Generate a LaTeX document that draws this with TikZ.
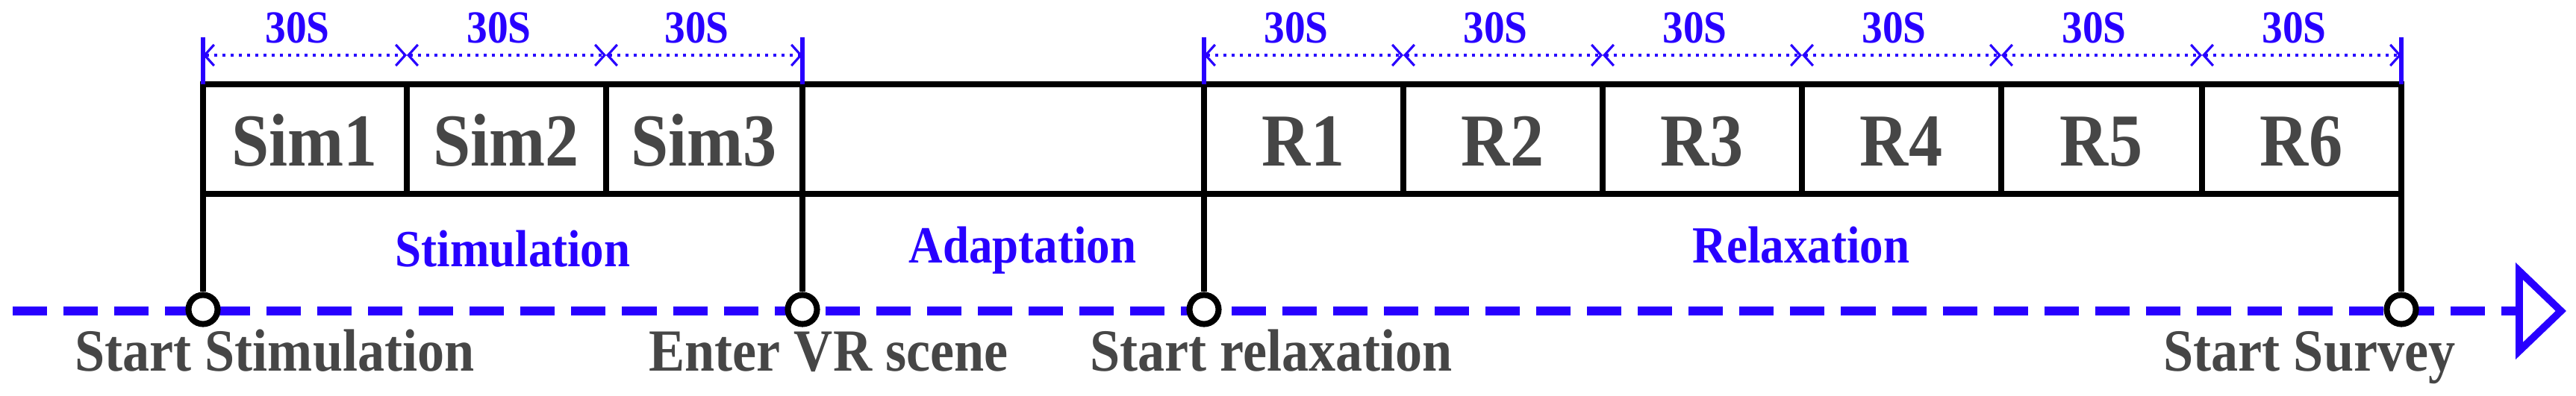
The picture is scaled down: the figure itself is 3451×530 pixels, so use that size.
\documentclass[tikz,border=0pt]{standalone}
\usepackage{fontspec}
\setmainfont{Liberation Serif}[FakeStretch=0.9]
\usetikzlibrary{arrows.meta,calc}
\definecolor{tlblue}{RGB}{40,0,255}
\definecolor{txtgray}{RGB}{70,70,70}
\begin{document}
\begin{tikzpicture}[x=0.01cm,y=-0.01cm,
  boxline/.style={line width=2.5pt, black, line cap=rect},
  divline/.style={line width=2.1pt, black},
  ticks/.style={line width=1.6pt, tlblue},
  dimline/.style={line width=1.3pt, tlblue, dash pattern=on 0.04cm off 0.07cm,
    {Straight Barb[length=3.6pt,width=8pt,line width=0.9pt]}-{Straight Barb[length=3.6pt,width=8pt,line width=0.9pt]}},
  timeline/.style={line width=3.4pt, tlblue, dash pattern=on 0.46cm off 0.22cm,
    -{Triangle[open,length=0.68cm,width=1.28cm,line width=2.8pt]}},
  event/.style={circle, draw=black, fill=white, line width=2.3pt, minimum size=0.39cm, inner sep=0pt},
  durlab/.style={text=tlblue, font=\bfseries\fontsize{17.5pt}{18pt}\selectfont, anchor=base, inner sep=0pt},
  celllab/.style={text=txtgray, font=\bfseries\fontsize{28.5pt}{30pt}\selectfont, anchor=base, inner sep=0pt},
  phaselab/.style={text=tlblue, font=\bfseries\fontsize{19.9pt}{21pt}\selectfont, anchor=base, inner sep=0pt},
  eventlab/.style={text=txtgray, font=\bfseries\fontsize{22.8pt}{24pt}\selectfont, anchor=base, inner sep=0pt},
]
\useasboundingbox (0,0) rectangle (3451,530);

% column boundaries
\foreach \i/\x in {0/272,1/545,2/812,3/1075,4/1613,5/1880,6/2147,7/2414,8/2681,9/2950,10/3217} {
  \coordinate (t\i) at (\x,113);
  \coordinate (b\i) at (\x,260);
  \coordinate (d\i) at (\x,74);
}
\foreach \i/\x in {0/272,3/1075,4/1613,10/3217} {
  \coordinate (k\i) at (\x,50);
}

% timeline
\coordinate (tlstart) at (17,417);
\coordinate (tlend) at (3438,417);
\draw[timeline] (tlstart) -- (tlend);

% box
\foreach \i in {1,2,5,6,7,8,9} { \draw[divline] (t\i) -- (b\i); }
\draw[boxline] (t0) -- (t10);
\draw[boxline] (b0) -- (b10);

% event markers
\node[event] (e0) at (272,415) {};
\node[event] (e3) at (1075,415) {};
\node[event] (e4) at (1613,415) {};
\node[event] (e10) at (3217,415) {};
\foreach \i in {0,3,4,10} { \draw[divline] (t\i) -- (e\i.north); }

% duration ticks and dimension lines
\foreach \i in {0,3,4,10} { \draw[ticks] (k\i) -- (t\i); }
\foreach \a/\b in {0/1,1/2,2/3,4/5,5/6,6/7,7/8,8/9,9/10} {
  \draw[dimline] (d\a) -- (d\b);
  \node[durlab] (s\a) at ($(d\a)!0.5!(d\b)+(-10,-17)$) {30S};
}

% cell labels
\node[celllab] (c1) at (408,222) {Sim1};
\node[celllab] (c2) at (678,222) {Sim2};
\node[celllab] (c3) at (943,222) {Sim3};
\node[celllab] (r1) at (1746,222) {R1};
\node[celllab] (r2) at (2013,222) {R2};
\node[celllab] (r3) at (2280,222) {R3};
\node[celllab] (r4) at (2547,222) {R4};
\node[celllab] (r5) at (2815,222) {R5};
\node[celllab] (r6) at (3083,222) {R6};

% phase labels
\node[phaselab] (p1) at (687,357) {Stimulation};
\node[phaselab] (p2) at (1370,352) {Adaptation};
\node[phaselab] (p3) at (2413,352) {Relaxation};

% event labels
\node[eventlab] (l0) at (368,497) {Start Stimulation};
\node[eventlab] (l3) at (1110,497) {Enter VR scene};
\node[eventlab] (l4) at (1703,497) {Start relaxation};
\node[eventlab] (l10) at (3094,497) {Start Survey};
\end{tikzpicture}
\end{document}
